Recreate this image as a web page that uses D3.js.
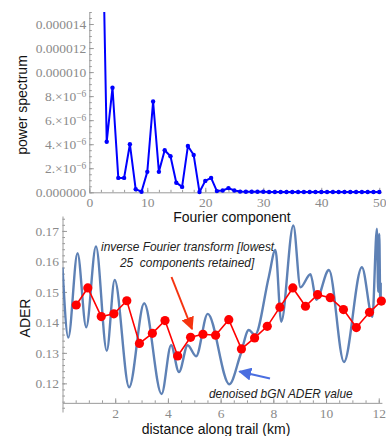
<!DOCTYPE html>
<html>
<head>
<meta charset="utf-8">
<script src="https://cdn.jsdelivr.net/npm/d3@7"></script>
<style>
  body { margin: 0; background: #fff; }
  svg { display: block; }
  .tick text { font-family: "Liberation Serif", "DejaVu Serif", serif; font-size: 13.5px; fill: #8a8a8a; }
  .axis path, .axis line { stroke: #9a9a9a; }
  .label { font-family: "Liberation Sans", Arial, sans-serif; font-size: 14px; fill: #111; }
  .note { font-family: "Liberation Sans", Arial, sans-serif; font-size: 11.9px; font-style: italic; fill: #222; white-space: pre; }
</style>
</head>
<body>
<svg id="chart" width="386" height="436"></svg>
<script>
// power spectrum by Fourier component (component 2 runs off the top)
const components = d3.range(2, 51);
const power = [
  30.0, 4.2, 8.7, 1.2, 1.2, 4.0, 0.25, 0.05, 1.7, 7.55,
  1.7, 3.5, 3.0, 0.8, 0.45, 3.85, 3.1, 0.02, 0.95, 1.2,
  0.1, 0.15, 0.35, 0.15, 0.06, 0.04, 0.05, 0.04, 0.05, 0.03,
  0.03, 0.02, 0.02, 0.03, 0.02, 0.02, 0.02, 0.02, 0.02, 0.02,
  0.02, 0.02, 0.02, 0.02, 0.02, 0.02, 0.02, 0.02, 0.02
].map(v => v * 1e-6);

const powerTicks = [0, 2e-6, 4e-6, 6e-6, 8e-6, 1e-5, 1.2e-5, 1.4e-5];
const powerTickLabels = ["0.000000", "2.\u00d710|\u22126", "4.\u00d710|\u22126", "6.\u00d710|\u22126",
  "8.\u00d710|\u22126", "0.000010", "0.000012", "0.000014"];
const componentTicks = [0, 10, 20, 30, 40, 50];

// denoised bGN ADER value along the trail (km, ADER)
const trailKm = [0.00, 0.22, 0.57, 0.90, 1.27, 1.68, 1.98, 2.53, 3.10, 3.76,
  4.12, 4.42, 4.75, 5.07, 5.51, 6.33, 6.75, 7.07, 7.30, 7.83,
  8.08, 8.30, 8.76, 9.03, 9.41, 9.63, 10.11, 10.68, 11.36, 11.76,
  11.93, 11.98, 12.02, 12.06, 12.12];
const ader = [0.158, 0.135, 0.1627, 0.1384, 0.1649, 0.1307, 0.1539, 0.1187, 0.1463, 0.1165,
  0.1325, 0.1237, 0.1325, 0.1289, 0.1428, 0.1197, 0.1293, 0.1375, 0.1358, 0.1550,
  0.1638, 0.1402, 0.1718, 0.1515, 0.1558, 0.1474, 0.1572, 0.1270, 0.1581, 0.1418,
  0.1707, 0.1500, 0.1690, 0.1460, 0.1530];

// inverse Fourier transform, lowest 25 components
const segmentKm = [0.52, 0.96, 1.47, 1.95, 2.44, 2.92, 3.41, 3.89, 4.37, 4.86,
  5.33, 5.81, 6.31, 6.79, 7.29, 7.77, 8.25, 8.74, 9.22, 9.68,
  10.16, 10.66, 11.15, 11.65, 12.10];
const aderSmooth = [0.1457, 0.1513, 0.1419, 0.1428, 0.1471, 0.1331, 0.1364, 0.1406, 0.1290, 0.1351,
  0.1361, 0.1358, 0.1409, 0.1313, 0.1349, 0.1387, 0.1450, 0.1513, 0.1453, 0.1491,
  0.1481, 0.1442, 0.1383, 0.1433, 0.1470];

const aderTicks = [0.12, 0.13, 0.14, 0.15, 0.16, 0.17];
const kmTicks = [2, 4, 6, 8, 10, 12];

const svg = d3.select('#chart');

// ---------- top panel ----------
const x1 = d3.scaleLinear().domain([0, 50.4]).range([89.3, 381.6]);
const y1 = d3.scaleLinear().domain([0, 15e-6]).range([192.3, 12]);

const gTop = svg.append('g');

gTop.append('g').attr('class', 'axis')
  .attr('transform', `translate(0,${y1(0)})`)
  .call(d3.axisBottom(x1).tickValues(d3.range(0, 51, 2)).tickSize(-2.5).tickSizeOuter(0).tickFormat(''));
gTop.append('g').attr('class', 'axis')
  .attr('transform', `translate(0,${y1(0)})`)
  .call(d3.axisBottom(x1).tickValues(componentTicks).tickSize(-4.5).tickSizeOuter(0).tickPadding(4))
  .call(g => g.select('.domain').remove())
  .selectAll('text').attr('dy', '0.8em');

gTop.append('g').attr('class', 'axis')
  .attr('transform', `translate(${x1(0)},0)`)
  .call(d3.axisLeft(y1).tickValues(d3.range(0, 15.01, 0.5).map(v => v * 1e-6)).tickSize(-2.5).tickSizeOuter(0).tickFormat(''));
gTop.append('g').attr('class', 'axis')
  .attr('transform', `translate(${x1(0)},0)`)
  .call(d3.axisLeft(y1).tickValues(powerTicks).tickSize(-4.5).tickSizeOuter(0).tickPadding(3)
    .tickFormat((d, i) => powerTickLabels[i]))
  .call(g => g.select('.domain').remove())
  .selectAll('text').each(function(d, i) {
    const parts = powerTickLabels[i].split('|');
    const t = d3.select(this).text(parts[0]);
    if (parts[1]) {
      t.append('tspan').attr('dy', '-0.45em').style('font-size', '9.5px').text(parts[1]);
    }
  });

gTop.append('defs').append('clipPath').attr('id', 'clipTop')
  .append('rect').attr('x', x1(0)).attr('y', 12).attr('width', 300).attr('height', 190);

const spec = components.map((k, i) => [k, power[i]]);
const specG = gTop.append('g').attr('clip-path', 'url(#clipTop)');
specG.append('path')
  .datum(spec)
  .attr('fill', 'none')
  .attr('stroke', '#0000ff')
  .attr('stroke-width', 2)
  .attr('stroke-linejoin', 'round')
  .attr('d', d3.line().x(d => x1(d[0])).y(d => y1(d[1])));
specG.selectAll('circle').data(spec).enter().append('circle')
  .attr('cx', d => x1(d[0])).attr('cy', d => y1(d[1])).attr('r', 2.2).attr('fill', '#0000ff');

gTop.append('text').attr('class', 'label')
  .attr('transform', `translate(27,105) rotate(-90)`)
  .attr('text-anchor', 'middle').text('power spectrum');
gTop.append('text').attr('class', 'label')
  .attr('x', 232).attr('y', 222).attr('text-anchor', 'middle').text('Fourier component');

// ---------- bottom panel ----------
const x2 = d3.scaleLinear().domain([0, 12.12]).range([62.5, 381.9]);
const y2 = d3.scaleLinear().domain([0.1106, 0.1749]).range([412, 216]);
const xAxisY = y2(0.1136);

const gBot = svg.append('g');

gBot.append('g').attr('class', 'axis')
  .attr('transform', `translate(0,${xAxisY})`)
  .call(d3.axisBottom(x2).tickValues(d3.range(0.5, 12.1, 0.5)).tickSize(-2.5).tickSizeOuter(0).tickFormat(''));
gBot.append('g').attr('class', 'axis')
  .attr('transform', `translate(0,${xAxisY})`)
  .call(d3.axisBottom(x2).tickValues(kmTicks).tickSize(-4.5).tickSizeOuter(0).tickPadding(4))
  .call(g => g.select('.domain').remove())
  .selectAll('text').attr('dy', '0.8em');

gBot.append('g').attr('class', 'axis')
  .attr('transform', `translate(${x2(0)},0)`)
  .call(d3.axisLeft(y2).tickValues(d3.range(0.112, 0.1745, 0.002)).tickSize(-2.5).tickSizeOuter(0).tickFormat(''));
gBot.append('g').attr('class', 'axis')
  .attr('transform', `translate(${x2(0)},0)`)
  .call(d3.axisLeft(y2).tickValues(aderTicks).tickSize(-4.5).tickSizeOuter(0).tickPadding(3.5)
    .tickFormat(d3.format('.2f')))
  .call(g => g.select('.domain').remove());

gBot.append('defs').append('clipPath').attr('id', 'clipBot')
  .append('rect').attr('x', x2(0)).attr('y', 216).attr('width', x2(12.12) - x2(0)).attr('height', 196);

const raw = trailKm.map((k, i) => [k, ader[i]]);
gBot.append('path')
  .datum(raw)
  .attr('clip-path', 'url(#clipBot)')
  .attr('fill', 'none')
  .attr('stroke', '#5e81b5')
  .attr('stroke-width', 2.4)
  .attr('d', d3.line().curve(d3.curveMonotoneX).x(d => x2(d[0])).y(d => y2(d[1])));

const smooth = segmentKm.map((k, i) => [k, aderSmooth[i]]);
gBot.append('path')
  .datum(smooth)
  .attr('fill', 'none')
  .attr('stroke', '#ff0000')
  .attr('stroke-width', 1.6)
  .attr('d', d3.line().x(d => x2(d[0])).y(d => y2(d[1])));
gBot.selectAll('circle.seg').data(smooth).enter().append('circle')
  .attr('class', 'seg')
  .attr('cx', d => x2(d[0])).attr('cy', d => y2(d[1])).attr('r', 4.6).attr('fill', '#ff0000');

// annotations
const defs = svg.append('defs');
function marker(id, color) {
  defs.append('marker').attr('id', id)
    .attr('viewBox', '0 0 10 10').attr('refX', 9).attr('refY', 5)
    .attr('markerWidth', 6.5).attr('markerHeight', 6.5)
    .attr('markerUnits', 'strokeWidth').attr('orient', 'auto')
    .append('path').attr('d', 'M0,0 L10,5 L0,10 z').attr('fill', color);
}
marker('arrRed', '#f5330f');
marker('arrBlue', '#4a6ee0');

gBot.append('text').attr('class', 'note').attr('x', 101).attr('y', 251)
  .text('inverse Fourier transform [lowest');
gBot.append('text').attr('class', 'note').attr('x', 120).attr('y', 267)
  .text('25  components retained]');
gBot.append('line')
  .attr('x1', 171.5).attr('y1', 277).attr('x2', 192).attr('y2', 329)
  .attr('stroke', '#f5330f').attr('stroke-width', 2).attr('marker-end', 'url(#arrRed)');

gBot.append('text').attr('class', 'note').attr('x', 209).attr('y', 398)
  .text('denoised bGN ADER value');
gBot.append('line')
  .attr('x1', 270).attr('y1', 378.5).attr('x2', 239.5).attr('y2', 371.5)
  .attr('stroke', '#4a6ee0').attr('stroke-width', 2).attr('marker-end', 'url(#arrBlue)');

gBot.append('text').attr('class', 'label')
  .attr('transform', `translate(30,318) rotate(-90)`)
  .attr('text-anchor', 'middle').text('ADER');
gBot.append('text').attr('class', 'label')
  .attr('x', 216).attr('y', 433.5).attr('text-anchor', 'middle').text('distance along trail (km)');
</script>
</body>
</html>
